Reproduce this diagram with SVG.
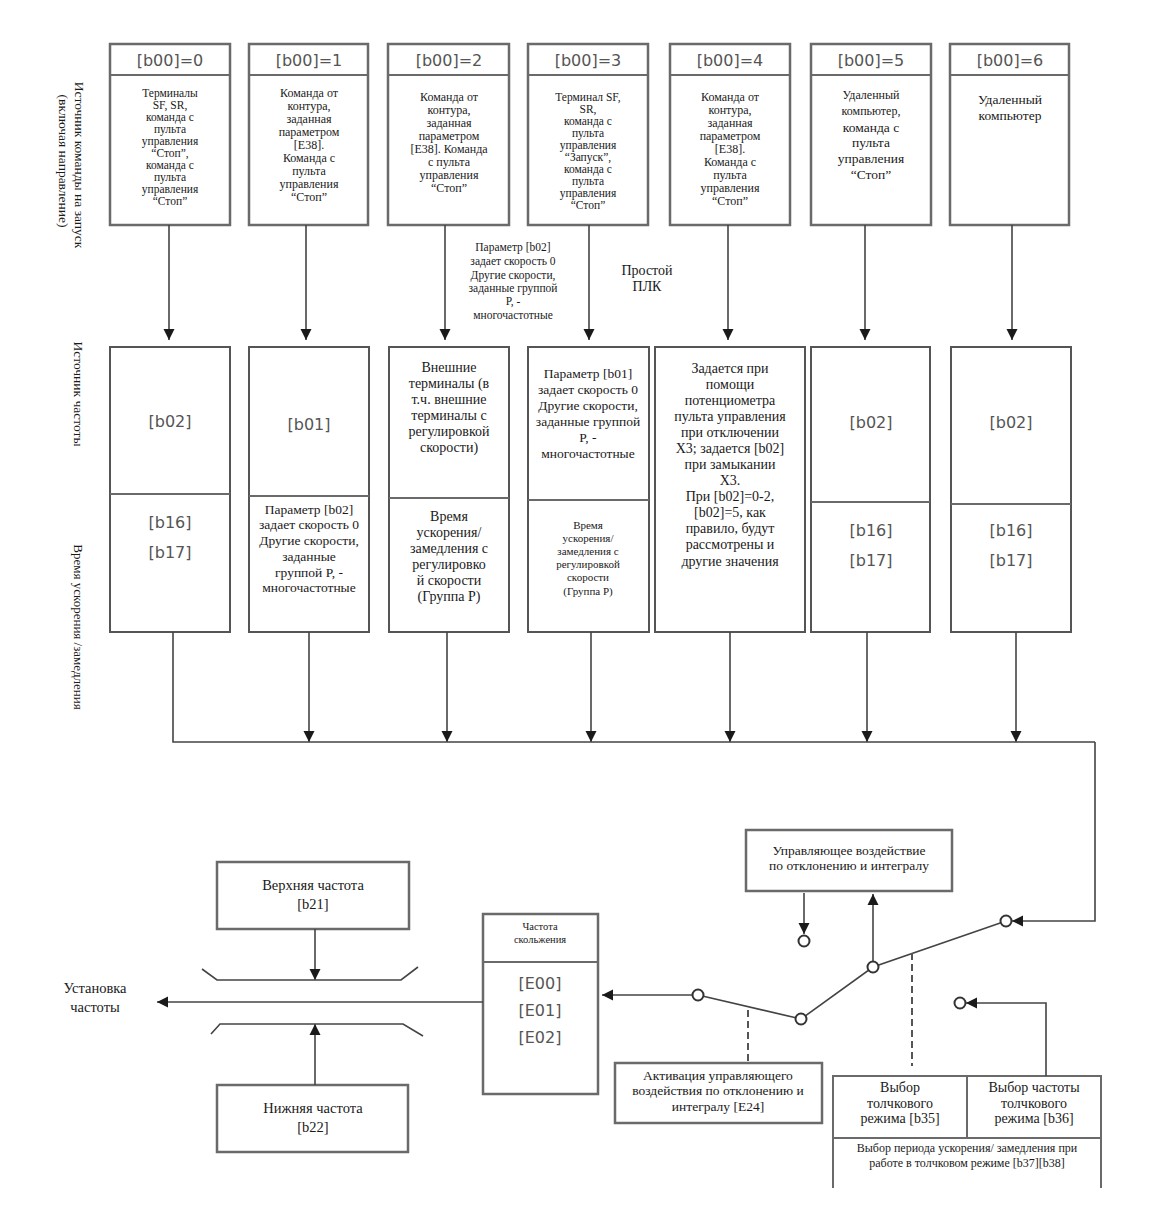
<svg xmlns="http://www.w3.org/2000/svg" width="1162" height="1217" viewBox="0 0 1162 1217">
<defs>
<style>
.bx{fill:#fff;stroke:#6a6a6a;stroke-width:2.5}
.bm{fill:#fff;stroke:#555;stroke-width:2}
.dv{stroke:#6a6a6a;stroke-width:2;fill:none}
.ln{stroke:#444;stroke-width:1.6;fill:none}
.dash{stroke:#555;stroke-width:2;stroke-dasharray:7,4;fill:none}
.cir{fill:#fff;stroke:#333;stroke-width:2}
.s{font-family:"DejaVu Sans",sans-serif;font-size:16px;fill:#555;text-anchor:middle;dominant-baseline:central}
.t{font-family:"Liberation Serif",serif;fill:#1a1a1a;text-anchor:middle;dominant-baseline:central}
</style>
<marker id="ah" viewBox="0 0 12 12" refX="12" refY="6" markerWidth="11" markerHeight="12" markerUnits="userSpaceOnUse" orient="auto">
<path d="M0,0 L12,6 L0,12 z" fill="#1a1a1a"/>
</marker>
</defs>
<rect width="1162" height="1217" fill="#fff"/>

<!-- side labels -->
<g id="side-labels" class="t" font-size="13.5">
<text transform="translate(79,165) rotate(90)">Источник команды на запуск</text>
<text transform="translate(63,161) rotate(90)">(включая направление)</text>
<text transform="translate(78,394) rotate(90)">Источник частоты</text>
<text transform="translate(78,627) rotate(90)" font-size="13">Время ускорения /замедления</text>
</g>

<!-- top boxes -->
<g id="cmd0">
<rect class="bx" x="110" y="44" width="120" height="181"/><line class="dv" x1="110" y1="75" x2="230" y2="75"/>
<text class="s" x="170" y="60">[b00]=0</text>
<g class="t" font-size="11.5"><text x="170" y="93">Терминалы</text><text x="170" y="105">SF, SR,</text><text x="170" y="117">команда с</text><text x="170" y="129">пульта</text><text x="170" y="141">управления</text><text x="170" y="153">“Стоп”,</text><text x="170" y="165">команда с</text><text x="170" y="177">пульта</text><text x="170" y="189">управления</text><text x="170" y="201">“Стоп”</text></g>
</g>
<g id="cmd1">
<rect class="bx" x="249" y="44" width="119" height="181"/><line class="dv" x1="249" y1="75" x2="368" y2="75"/>
<text class="s" x="309" y="60">[b00]=1</text>
<g class="t" font-size="12"><text x="309" y="93">Команда от</text><text x="309" y="106">контура,</text><text x="309" y="119">заданная</text><text x="309" y="132">параметром</text><text x="309" y="145">[E38].</text><text x="309" y="158">Команда с</text><text x="309" y="171">пульта</text><text x="309" y="184">управления</text><text x="309" y="197">“Стоп”</text></g>
</g>
<g id="cmd2">
<rect class="bx" x="388" y="44" width="121" height="181"/><line class="dv" x1="388" y1="75" x2="509" y2="75"/>
<text class="s" x="449" y="60">[b00]=2</text>
<g class="t" font-size="12"><text x="449" y="97">Команда от</text><text x="449" y="110">контура,</text><text x="449" y="123">заданная</text><text x="449" y="136">параметром</text><text x="449" y="149">[E38]. Команда</text><text x="449" y="162">с пульта</text><text x="449" y="175">управления</text><text x="449" y="188">“Стоп”</text></g>
</g>
<g id="cmd3">
<rect class="bx" x="528" y="44" width="120" height="181"/><line class="dv" x1="528" y1="75" x2="648" y2="75"/>
<text class="s" x="588" y="60">[b00]=3</text>
<g class="t" font-size="11.5"><text x="588" y="97">Терминал SF,</text><text x="588" y="109">SR,</text><text x="588" y="121">команда с</text><text x="588" y="133">пульта</text><text x="588" y="145">управления</text><text x="588" y="157">“Запуск”,</text><text x="588" y="169">команда с</text><text x="588" y="181">пульта</text><text x="588" y="193">управления</text><text x="588" y="205">“Стоп”</text></g>
</g>
<g id="cmd4">
<rect class="bx" x="670" y="44" width="120" height="181"/><line class="dv" x1="670" y1="75" x2="790" y2="75"/>
<text class="s" x="730" y="60">[b00]=4</text>
<g class="t" font-size="12"><text x="730" y="97">Команда от</text><text x="730" y="110">контура,</text><text x="730" y="123">заданная</text><text x="730" y="136">параметром</text><text x="730" y="149">[E38].</text><text x="730" y="162">Команда с</text><text x="730" y="175">пульта</text><text x="730" y="188">управления</text><text x="730" y="201">“Стоп”</text></g>
</g>
<g id="cmd5">
<rect class="bx" x="811" y="44" width="120" height="181"/><line class="dv" x1="811" y1="75" x2="931" y2="75"/>
<text class="s" x="871" y="60">[b00]=5</text>
<g class="t"><text x="871" y="95" font-size="12">Удаленный</text><text x="871" y="111" font-size="12">компьютер,</text><text x="871" y="127" font-size="13.5">команда с</text><text x="871" y="142" font-size="13.5">пульта</text><text x="871" y="158" font-size="13.5">управления</text><text x="871" y="174" font-size="13.5">“Стоп”</text></g>
</g>
<g id="cmd6">
<rect class="bx" x="950" y="44" width="119" height="181"/><line class="dv" x1="950" y1="75" x2="1069" y2="75"/>
<text class="s" x="1010" y="60">[b00]=6</text>
<g class="t" font-size="13.5"><text x="1010" y="99">Удаленный</text><text x="1010" y="115">компьютер</text></g>
</g>

<!-- annotations between rows -->
<g id="note-b02" class="t" font-size="11.5"><text x="513" y="247">Параметр [b02]</text><text x="513" y="261">задает скорость 0</text><text x="513" y="275">Другие скорости,</text><text x="513" y="288">заданные группой</text><text x="513" y="301">P, -</text><text x="513" y="315">многочастотные</text></g>
<g id="note-plc" class="t" font-size="14"><text x="647" y="270">Простой</text><text x="647" y="286">ПЛК</text></g>

<!-- middle boxes -->
<g id="freq0">
<rect class="bm" x="110" y="347" width="120" height="285"/><line class="dv" x1="110" y1="494" x2="230" y2="494"/>
<text class="s" x="170" y="421">[b02]</text><text class="s" x="170" y="522">[b16]</text><text class="s" x="170" y="552">[b17]</text>
</g>
<g id="freq1">
<rect class="bm" x="249" y="347" width="120" height="285"/><line class="dv" x1="249" y1="496" x2="369" y2="496"/>
<text class="s" x="309" y="424">[b01]</text>
<g class="t" font-size="13.5"><text x="309" y="509">Параметр [b02]</text><text x="309" y="524">задает скорость 0</text><text x="309" y="540">Другие скорости,</text><text x="309" y="556">заданные</text><text x="309" y="572">группой P, -</text><text x="309" y="587">многочастотные</text></g>
</g>
<g id="freq2">
<rect class="bm" x="389" y="347" width="120" height="285"/><line class="dv" x1="389" y1="498" x2="509" y2="498"/>
<g class="t" font-size="14"><text x="449" y="367">Внешние</text><text x="449" y="383">терминалы (в</text><text x="449" y="399">т.ч. внешние</text><text x="449" y="415">терминалы с</text><text x="449" y="431">регулировкой</text><text x="449" y="447">скорости)</text></g>
<g class="t" font-size="14"><text x="449" y="516">Время</text><text x="449" y="532">ускорения/</text><text x="449" y="548">замедления с</text><text x="449" y="564">регулировко</text><text x="449" y="580">й скорости</text><text x="449" y="596">(Группа P)</text></g>
</g>
<g id="freq3">
<rect class="bm" x="528" y="347" width="121" height="285"/><line class="dv" x1="528" y1="500" x2="649" y2="500"/>
<g class="t" font-size="13.5"><text x="588" y="373">Параметр [b01]</text><text x="588" y="389">задает скорость 0</text><text x="588" y="405">Другие скорости,</text><text x="588" y="421">заданные группой</text><text x="588" y="437">P, -</text><text x="588" y="453">многочастотные</text></g>
<g class="t" font-size="11"><text x="588" y="525">Время</text><text x="588" y="538">ускорения/</text><text x="588" y="551">замедления с</text><text x="588" y="564">регулировкой</text><text x="588" y="577">скорости</text><text x="588" y="591">(Группа P)</text></g>
</g>
<g id="freq4">
<rect class="bm" x="655" y="347" width="150" height="285"/>
<g class="t" font-size="14"><text x="730" y="368">Задается  при</text><text x="730" y="384">помощи</text><text x="730" y="400">потенциометра</text><text x="730" y="416">пульта управления</text><text x="730" y="432">при отключении</text><text x="730" y="448">X3; задается [b02]</text><text x="730" y="464">при замыкании</text><text x="730" y="480">X3.</text><text x="730" y="496">При [b02]=0-2,</text><text x="730" y="512">[b02]=5, как</text><text x="730" y="528">правило, будут</text><text x="730" y="544">рассмотрены и</text><text x="730" y="561">другие значения</text></g>
</g>
<g id="freq5">
<rect class="bm" x="811" y="347" width="119" height="285"/><line class="dv" x1="811" y1="502" x2="930" y2="502"/>
<text class="s" x="871" y="422">[b02]</text><text class="s" x="871" y="530">[b16]</text><text class="s" x="871" y="560">[b17]</text>
</g>
<g id="freq6">
<rect class="bm" x="951" y="347" width="120" height="285"/><line class="dv" x1="951" y1="504" x2="1071" y2="504"/>
<text class="s" x="1011" y="422">[b02]</text><text class="s" x="1011" y="530">[b16]</text><text class="s" x="1011" y="560">[b17]</text>
</g>

<!-- bottom nodes -->
<g id="upper">
<rect class="bx" x="217" y="862" width="192" height="67"/>
<g class="t" font-size="14.5"><text x="313" y="885">Верхняя частота</text><text x="313" y="904">[b21]</text></g>
</g>
<g id="lower">
<rect class="bx" x="217" y="1085" width="191" height="67"/>
<g class="t" font-size="14.5"><text x="313" y="1108">Нижняя частота</text><text x="313" y="1127">[b22]</text></g>
</g>
<g id="output" class="t" font-size="14.5"><text x="95" y="988">Установка</text><text x="95" y="1007">частоты</text></g>
<g id="slip">
<rect class="bx" x="483" y="914" width="115" height="180"/><line class="dv" x1="483" y1="962" x2="598" y2="962"/>
<g class="t" font-size="10.5"><text x="540" y="926">Частота</text><text x="540" y="939">скольжения</text></g>
<text class="s" x="540" y="983">[E00]</text><text class="s" x="540" y="1010">[E01]</text><text class="s" x="540" y="1037">[E02]</text>
</g>
<g id="pi">
<rect class="bx" x="746" y="830" width="206" height="61"/>
<g class="t" font-size="13.5"><text x="849" y="850">Управляющее воздействие</text><text x="849" y="865">по отклонению и интегралу</text></g>
</g>
<g id="pi-enable">
<rect class="bx" x="615" y="1063" width="207" height="60"/>
<g class="t" font-size="13.5"><text x="718" y="1075">Активация управляющего</text><text x="718" y="1090">воздействия по отклонению и</text><text x="718" y="1106">интегралу [E24]</text></g>
</g>
<g id="jog">
<path class="dv" stroke-width="2.5" d="M833,1188 V1076 H1101 V1188 M967,1076 V1138 M833,1138 H1101"/>
<g class="t" font-size="14"><text x="900" y="1087">Выбор</text><text x="900" y="1103">толчкового</text><text x="900" y="1118">режима [b35]</text><text x="1034" y="1087">Выбор  частоты</text><text x="1034" y="1103">толчкового</text><text x="1034" y="1118">режима [b36]</text></g>
<g class="t" font-size="12"><text x="967" y="1148">Выбор периода ускорения/ замедления при</text><text x="967" y="1163">работе в толчковом режиме [b37][b38]</text></g>
</g>

<!-- connectors -->
<g id="connectors">
<g class="ln" marker-end="url(#ah)">
<line x1="169" y1="225" x2="169" y2="340"/><line x1="306" y1="225" x2="306" y2="340"/><line x1="445" y1="225" x2="445" y2="340"/><line x1="589" y1="225" x2="589" y2="340"/><line x1="728" y1="225" x2="728" y2="340"/><line x1="865" y1="225" x2="865" y2="340"/><line x1="1012" y1="225" x2="1012" y2="340"/>
<line x1="309" y1="632" x2="309" y2="742"/><line x1="447" y1="632" x2="447" y2="742"/><line x1="591" y1="632" x2="591" y2="742"/><line x1="730" y1="632" x2="730" y2="742"/><line x1="867" y1="632" x2="867" y2="742"/><line x1="1016" y1="632" x2="1016" y2="742"/>
<polyline points="1095,742 1095,921 1012,921"/>
<line x1="692" y1="995" x2="602" y2="995"/>
<line x1="483" y1="1002" x2="157" y2="1002"/>
<line x1="315" y1="929" x2="315" y2="980"/>
<line x1="315" y1="1085" x2="315" y2="1024"/>
<line x1="804" y1="893" x2="804" y2="934"/>
<line x1="873" y1="961" x2="873" y2="894"/>
<polyline points="1046,1076 1046,1003 966,1003"/>
</g>
<polyline class="ln" points="173,632 173,742 1095,742"/>
<polyline class="ln" points="202,969 217,980 401,980 418,967"/>
<polyline class="ln" points="211,1034 220,1024 403,1024 423,1036"/>
<polyline class="ln" points="698,995 801,1019 873,967 1006,921"/>
<line class="dash" x1="748" y1="1010" x2="748" y2="1063"/>
<line class="dash" x1="912" y1="953" x2="912" y2="1066"/>
<circle class="cir" cx="698" cy="995" r="5.5"/><circle class="cir" cx="801" cy="1019" r="5.5"/><circle class="cir" cx="873" cy="967" r="5.5"/><circle class="cir" cx="1006" cy="921" r="5.5"/><circle class="cir" cx="804" cy="941" r="5.5"/><circle class="cir" cx="960" cy="1003" r="5.5"/>
</g>
</svg>
